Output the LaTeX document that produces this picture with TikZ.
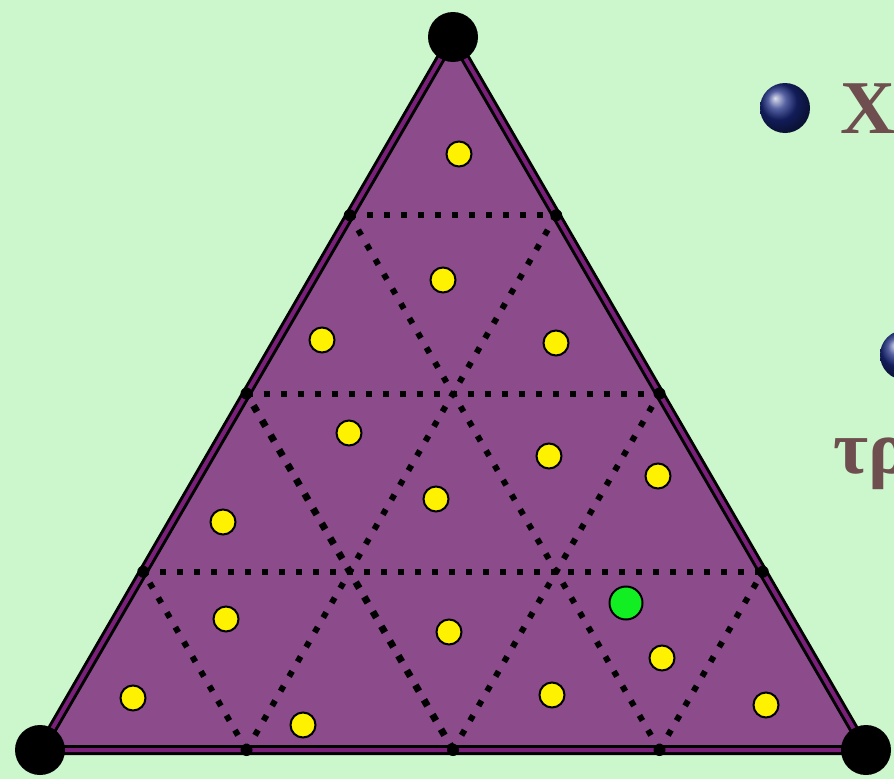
\documentclass[tikz,border=0pt]{standalone}
\usepackage{fontspec}
\newfontfamily\greekfont{Liberation Serif}
\usepackage{tikz}
\usetikzlibrary{positioning,calc}
\definecolor{mint}{HTML}{CCF7CC}
\definecolor{plum}{HTML}{8C4C8C}
\definecolor{rim}{HTML}{7A1F7A}
\definecolor{sun}{HTML}{FFF200}
\definecolor{lime}{HTML}{11EE22}
\definecolor{navy}{HTML}{1A2A80}
\definecolor{cocoa}{HTML}{6E4E4E}

\begin{document}
\begin{tikzpicture}[
    x=1pt, y=-1pt,
    corner/.style={circle, fill=black, inner sep=0pt, minimum size=50pt},
    tick/.style={circle, fill=black, inner sep=0pt, minimum size=12pt},
    grid/.style={line width=6pt, dash pattern=on 6pt off 11pt, black},
    pt/.style={circle, draw=black, line width=2pt, fill=sun, inner sep=0pt, minimum size=25pt},
    bullet/.style={circle, ball color=navy, inner sep=0pt, minimum size=50pt},
    word/.style={font=\greekfont\bfseries\fontsize{76}{80}\selectfont, text=cocoa, inner sep=0pt}
  ]
    \useasboundingbox (0,0) rectangle (894,779);
    \clip (0,0) rectangle (894,779);
    \fill[mint] (0,0) rectangle (894,779);

    % triangle
    \coordinate (A) at (453,37);
    \coordinate (B) at (40,750);
    \coordinate (C) at (866,750);
    \filldraw[fill=plum, draw=black, line width=10pt] (A) -- (B) -- (C) -- cycle;
    \draw[rim, line width=4pt] (A) -- (B) -- (C) -- cycle;

    % quarter points on the sides
    \coordinate (l1) at ($(A)!0.25!(B)$);
    \coordinate (l2) at ($(A)!0.5!(B)$);
    \coordinate (l3) at ($(A)!0.75!(B)$);
    \coordinate (r1) at ($(A)!0.25!(C)$);
    \coordinate (r2) at ($(A)!0.5!(C)$);
    \coordinate (r3) at ($(A)!0.75!(C)$);
    \coordinate (b1) at ($(B)!0.25!(C)$);
    \coordinate (b2) at ($(B)!0.5!(C)$);
    \coordinate (b3) at ($(B)!0.75!(C)$);

    \draw[grid] (l1) -- (r1);
    \draw[grid] (l2) -- (r2);
    \draw[grid] (l3) -- (r3);
    \draw[grid] (b1) -- (r1);
    \draw[grid] (b2) -- (r2);
    \draw[grid] (b3) -- (r3);
    \draw[grid] (b1) -- (l3);
    \draw[grid, line width=7pt, dash pattern=on 7pt off 10pt] (b2) -- (l2);
    \draw[grid] (b3) -- (l1);

    \node[tick] (t1) at (l1) {};
    \node[tick] (t2) at (l2) {};
    \node[tick] (t3) at (l3) {};
    \node[tick] (t4) at (r1) {};
    \node[tick] (t5) at (r2) {};
    \node[tick] (t6) at (r3) {};
    \node[tick] (t7) at (b1) {};
    \node[tick] (t8) at (b2) {};
    \node[tick] (t9) at (b3) {};

    \node[corner] (top) at (A) {};
    \node[corner] (left) at (B) {};
    \node[corner] (right) at (C) {};

    % points
    \node[pt] (p1) at (459,154) {};
    \node[pt] (p2) at (443,280) {};
    \node[pt] (p3) at (322,340) {};
    \node[pt] (p4) at (556,343) {};
    \node[pt] (p5) at (349,433) {};
    \node[pt] (p6) at (549,456) {};
    \node[pt] (p7) at (658,476) {};
    \node[pt] (p8) at (436,499) {};
    \node[pt] (p9) at (223,522) {};
    \node[pt] (p10) at (226,619) {};
    \node[pt] (p11) at (449,632) {};
    \node[pt] (p12) at (662,658) {};
    \node[pt] (p13) at (133,698) {};
    \node[pt] (p14) at (303,725) {};
    \node[pt] (p15) at (552,695) {};
    \node[pt] (p16) at (766,705) {};
    \node[pt, fill=lime, minimum size=33pt] (q) at (626,603) {};

    % text on the right
    \node[bullet] (dot1) at (785,108) {};
    \node[word, anchor=base west] (w1) at (840,133) {Χο};
    \node[bullet] (dot2) at (905,355) {};
    \node[word, anchor=base west] (w2) at (833,473) {τρ};
  \end{tikzpicture}
\end{document}
